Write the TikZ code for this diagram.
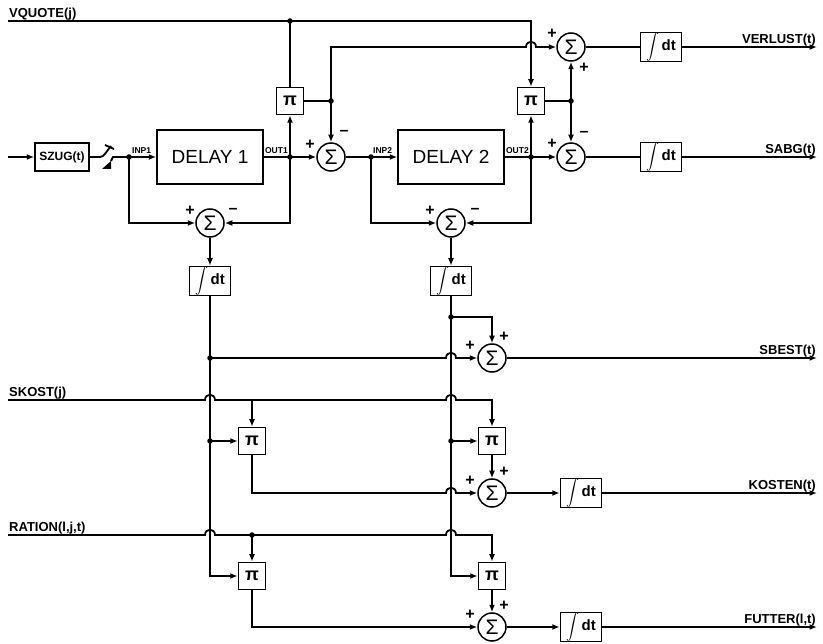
\documentclass[tikz,border=0pt]{standalone}
\usepackage{fontspec}
\setmainfont{Liberation Sans}
\usetikzlibrary{arrows.meta,positioning,calc}
\tikzset{
  sig/.style={line width=1.8pt},
  arr/.style={sig, -{Latex[length=7.5pt,width=6pt]}},
  blk/.style={draw, line width=1.5pt, rectangle, inner sep=0pt},
  dly/.style={blk, minimum width=106pt, minimum height=54pt,
              font=\fontsize{19}{19}\selectfont},
  mul/.style={blk, minimum size=27pt, font=\fontsize{18}{18}\selectfont\bfseries},
  integ/.style={blk, minimum width=41pt, minimum height=28pt,
                font=\fontsize{15}{15}\selectfont\bfseries},
  adder/.style={draw, circle, line width=1.5pt, minimum size=28pt,
                inner sep=0pt, font=\fontsize{21}{21}\selectfont},
  jn/.style={circle, fill, inner sep=0pt, minimum size=5.5pt},
  sgn/.style={font=\fontsize{16}{16}\selectfont\bfseries, inner sep=0pt},
  port/.style={font=\fontsize{8.5}{8.5}\selectfont\bfseries, inner sep=1pt},
  sname/.style={font=\fontsize{13}{13}\selectfont\bfseries, inner sep=1pt},
}
\newcommand{\intdt}{\raisebox{-1pt}{\scalebox{1.3}{$\displaystyle\int$}}\,dt}

\begin{document}
\begin{tikzpicture}[x=1pt, y=-1pt]
  \useasboundingbox (0,0) rectangle (823,644);

  % inputs and right edge
  \coordinate (vqin) at (8,21);
  \coordinate (szin) at (8,157);
  \coordinate (skin) at (8,400);
  \coordinate (rain) at (8,535);
  \coordinate (rx) at (817,0);

  % delay chain
  \node[blk, minimum width=54pt, minimum height=28pt,
        font=\fontsize{12}{12}\selectfont\bfseries] (szug) at (62,157) {SZUG(t)};
  \node[dly] (dly1) at (210,157) {DELAY 1};
  \node[dly] (dly2) at (451,157) {DELAY 2};
  \node[adder] (sd) at (331,157) {Σ};
  \node[mul] (pi1) at (290,101) {π};
  \node[mul] (pi2) at (531,101) {π};
  \node[adder] (sv) at (571,47) {Σ};
  \node[adder] (ss) at (571,157) {Σ};
  \node[integ, right=54pt of sv] (intv) {\intdt};
  \node[integ, right=54pt of ss] (ints) {\intdt};
  \node[adder] (sl1) at (210,223) {Σ};
  \node[adder] (sl2) at (451,223) {Σ};
  \node[integ, below=28pt of sl1] (int1) {\intdt};
  \node[integ, below=28pt of sl2] (int2) {\intdt};

  % lower part
  \node[adder] (sb) at (492,358) {Σ};
  \node[mul] (pi3) at (252,441) {π};
  \node[mul] (pi5) at (492,441) {π};
  \node[adder] (sk) at (492,493) {Σ};
  \node[mul] (pi4) at (252,576) {π};
  \node[mul] (pi6) at (492,576) {π};
  \node[adder] (sf) at (492,627) {Σ};
  \node[integ, right=53pt of sk] (intk) {\intdt};
  \node[integ, right=53pt of sf] (intf) {\intdt};

  % junctions
  \coordinate (jvq) at (pi1 |- vqin);
  \coordinate (jin1) at (129,157);
  \coordinate (jout1) at (pi1 |- szin);
  \coordinate (jp1) at (sd |- pi1);
  \coordinate (jin2) at (371,157);
  \coordinate (jout2) at (pi2 |- szin);
  \coordinate (jp2) at (sv |- pi2);
  \coordinate (jb1) at (int1 |- sb);
  \coordinate (jb2) at (451,317);
  \coordinate (jc1) at (int1 |- pi3);
  \coordinate (jc2) at (int2 |- pi5);
  \coordinate (jr) at (pi4 |- rain);

  % upper signal paths
  \draw[arr] (vqin) -| (pi2.north);
  \draw[sig] (jvq) -- (pi1.north);
  \draw[arr] (szin) -- (szug.west);
  \draw[sig] (szug.east) -- (100,157) .. controls (104,157) and (106,152) .. (111,146);
  \draw[sig] (105,145) -- (114,149);
  \fill (102,169) -- (111,169) -- (111,161) -- cycle;
  \draw[sig] (111,161) -- (113,157) -- (jin1);
  \draw[arr] (jin1) -- (dly1.west);
  \draw[sig] (dly1.east) -- (jout1);
  \draw[arr] (jout1) -- (sd.west);
  \draw[arr] (jout1) -- (pi1.south);
  \draw[arr] (jout1) |- (sl1.east);
  \draw[arr] (jin1) |- (sl1.west);
  \draw[sig] (pi1.east) -- (jp1);
  \draw[arr] (jp1) -- (sd.north);
  \draw[arr] (jp1) -- (sd |- sv) -- (526,47) .. controls +(0,-7) and +(0,-7) .. (536,47) -- (sv.west);
  \draw[sig] (sd.east) -- (jin2);
  \draw[arr] (jin2) -- (dly2.west);
  \draw[arr] (jin2) |- (sl2.west);
  \draw[sig] (dly2.east) -- (jout2);
  \draw[arr] (jout2) -- (ss.west);
  \draw[arr] (jout2) -- (pi2.south);
  \draw[arr] (jout2) |- (sl2.east);
  \draw[sig] (pi2.east) -- (jp2);
  \draw[arr] (jp2) -- (sv.south);
  \draw[arr] (jp2) -- (ss.north);
  \draw[sig] (sv) -- (intv);
  \draw[sig] (ss) -- (ints);
  \draw[arr] (intv.east) -- (intv.east -| rx);
  \draw[arr] (ints.east) -- (ints.east -| rx);
  \draw[arr] (sl1) -- (int1);
  \draw[arr] (sl2) -- (int2);

  % lower signal paths
  \draw[arr] (int1.south) |- (pi4.west);
  \draw[arr] (int2.south) |- (pi6.west);
  \draw[arr] (jb1) -- (446,358) .. controls +(0,-7) and +(0,-7) .. (456,358) -- (sb.west);
  \draw[arr] (jb2) -| (sb.north);
  \draw[arr] (sb.east) -- (sb.east -| rx);
  \draw[arr] (skin) -- (205,400) .. controls +(0,-7) and +(0,-7) .. (215,400)
    -- (446,400) .. controls +(0,-7) and +(0,-7) .. (456,400) -| (pi5.north);
  \draw[arr] (pi3 |- skin) -- (pi3.north);
  \draw[arr] (jc1) -- (pi3.west);
  \draw[arr] (jc2) -- (pi5.west);
  \draw[arr] (pi3.south) |- (446,493) .. controls +(0,-7) and +(0,-7) .. (456,493) -- (sk.west);
  \draw[arr] (pi5) -- (sk);
  \draw[arr] (sk) -- (intk);
  \draw[arr] (intk.east) -- (intk.east -| rx);
  \draw[arr] (rain) -- (205,535) .. controls +(0,-7) and +(0,-7) .. (215,535)
    -- (446,535) .. controls +(0,-7) and +(0,-7) .. (456,535) -| (pi6.north);
  \draw[arr] (jr) -- (pi4.north);
  \draw[arr] (pi4.south) |- (sf.west);
  \draw[arr] (pi6) -- (sf);
  \draw[arr] (sf) -- (intf);
  \draw[arr] (intf.east) -- (intf.east -| rx);

  \foreach \j in {jvq,jin1,jout1,jp1,jin2,jout2,jp2,jb1,jb2,jc1,jc2,jr}
    \node[jn] at (\j) {};

  % signs
  \node[sgn] at (310,145) {+};  \node[sgn] at (344,133) {–};
  \node[sgn] at (190,211) {+};  \node[sgn] at (233,211) {–};
  \node[sgn] at (430,211) {+};  \node[sgn] at (475,211) {–};
  \node[sgn] at (552,34) {+};   \node[sgn] at (584,68) {+};
  \node[sgn] at (552,144) {+};  \node[sgn] at (584,134) {–};
  \node[sgn] at (470,346) {+};  \node[sgn] at (504,337) {+};
  \node[sgn] at (470,481) {+};  \node[sgn] at (504,472) {+};
  \node[sgn] at (470,615) {+};  \node[sgn] at (504,606) {+};

  % port labels
  \node[port, anchor=south west] at (131,155) {INP1};
  \node[port, anchor=south east] at (289,155) {OUT1};
  \node[port, anchor=south west] at (372,155) {INP2};
  \node[port, anchor=south east] at (530,155) {OUT2};

  % signal names
  \node[sname, anchor=south west] at (vqin) {VQUOTE(j)};
  \node[sname, anchor=south west] at (skin) {SKOST(j)};
  \node[sname, anchor=south west] at (rain) {RATION(l,j,t)};
  \node[sname, anchor=south east] at (intv.east -| rx) {VERLUST(t)};
  \node[sname, anchor=south east] at (ints.east -| rx) {SABG(t)};
  \node[sname, anchor=south east] at (sb.east -| rx) {SBEST(t)};
  \node[sname, anchor=south east] at (intk.east -| rx) {KOSTEN(t)};
  \node[sname, anchor=south east] at (intf.east -| rx) {FUTTER(l,t)};
\end{tikzpicture}
\end{document}
